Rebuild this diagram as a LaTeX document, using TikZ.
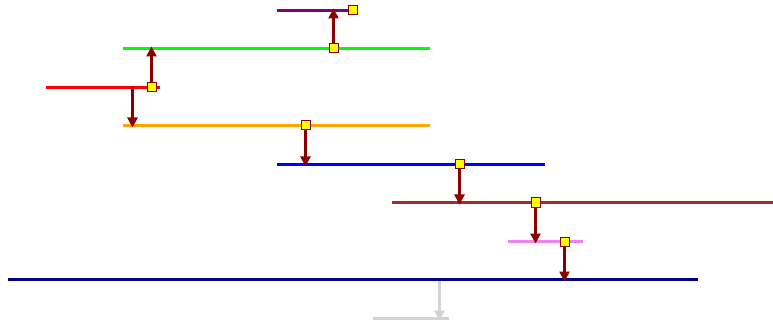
\documentclass[tikz,border=0pt]{standalone}
\usetikzlibrary{arrows.meta}
\definecolor{cpurple}{HTML}{800080}
\definecolor{cgreen}{HTML}{00FF00}
\definecolor{cred}{HTML}{FF0000}
\definecolor{corange}{HTML}{FFA500}
\definecolor{cblue}{HTML}{0000FF}
\definecolor{cbrown}{HTML}{A52A2A}
\definecolor{cviolet}{HTML}{EE82EE}
\definecolor{cnavy}{HTML}{000080}
\definecolor{cgray}{HTML}{D3D3D3}
\definecolor{cdark}{HTML}{8B0000}
\definecolor{cyel}{HTML}{FFFF00}
\begin{document}
\begin{tikzpicture}[x=0.75pt,y=-0.75pt,
  seg/.style={line width=2.25pt},
  sq/.style={draw=cdark,fill=cyel,line width=0.75pt,minimum size=6.75pt,inner sep=0pt,outer sep=0pt,rectangle},
  arr/.style={draw=cdark,line width=2.25pt,-{Triangle[length=7.5pt,width=7.5pt]},shorten >=-1.5pt},
  garr/.style={draw=cgray,line width=2.25pt,-{Triangle[length=7.5pt,width=7.5pt]},shorten >=-1.5pt}]
\useasboundingbox (0,0) rectangle (773,320);
% lines
\coordinate (pL) at (277,10.5); \coordinate (pR) at (352.5,10.5);
\coordinate (gL) at (123,48.5); \coordinate (gR) at (430,48.5);
\coordinate (rL) at (46,87.5);  \coordinate (rR) at (160,87.5);
\coordinate (oL) at (123,125.5);  \coordinate (oR) at (430,125.5);
\coordinate (bL) at (277,164.5); \coordinate (bR) at (545,164.5);
\coordinate (brL) at (392,202.5); \coordinate (brR) at (773,202.5);
\coordinate (vL) at (508,241.5); \coordinate (vR) at (583,241.5);
\coordinate (nL) at (8,279.5); \coordinate (nR) at (698,279.5);
\coordinate (lgL) at (373,318.5); \coordinate (lgR) at (449,318.5);
\draw[seg,cpurple] (pL) -- (pR);
\draw[seg,cgreen] (gL) -- (gR);
\draw[seg,cred] (rL) -- (rR);
\draw[seg,corange] (oL) -- (oR);
\draw[seg,cblue] (bL) -- (bR);
\draw[seg,cbrown] (brL) -- (brR);
\draw[seg,cviolet] (vL) -- (vR);
\draw[seg,cnavy] (nL) -- (nR);
\draw[seg,cgray] (lgL) -- (lgR);
% targets
\coordinate (t1) at (333.5,10.5);
\coordinate (t2) at (151.5,48.5);
\coordinate (s3) at (132.5,87.5); \coordinate (t3) at (132.5,125.5);
\coordinate (t4) at (305.5,164.5);
\coordinate (t5) at (459.5,202.5);
\coordinate (t6) at (535.5,241.5);
\coordinate (t7) at (564.5,279.5);
\coordinate (s8) at (439.5,281); \coordinate (t8) at (439.5,318.5);
% arrows
\draw[arr] (333.5,48.5) -- (t1);
\draw[arr] (151.5,87.5) -- (t2);
\draw[arr] (s3) -- (t3);
\draw[arr] (305.5,125.5) -- (t4);
\draw[arr] (459.5,164.5) -- (t5);
\draw[arr] (535.5,202.5) -- (t6);
\draw[arr] (564.5,241.5) -- (t7);
\draw[garr] (s8) -- (t8);
% squares
\node[sq] (q1) at (pR) {};
\node[sq] (q2) at (333.5,48.5) {};
\node[sq] (q3) at (151.5,87.5) {};
\node[sq] (q4) at (305.5,125.5) {};
\node[sq] (q5) at (459.5,164.5) {};
\node[sq] (q6) at (535.5,202.5) {};
\node[sq] (q7) at (564.5,241.5) {};
\end{tikzpicture}
\end{document}
